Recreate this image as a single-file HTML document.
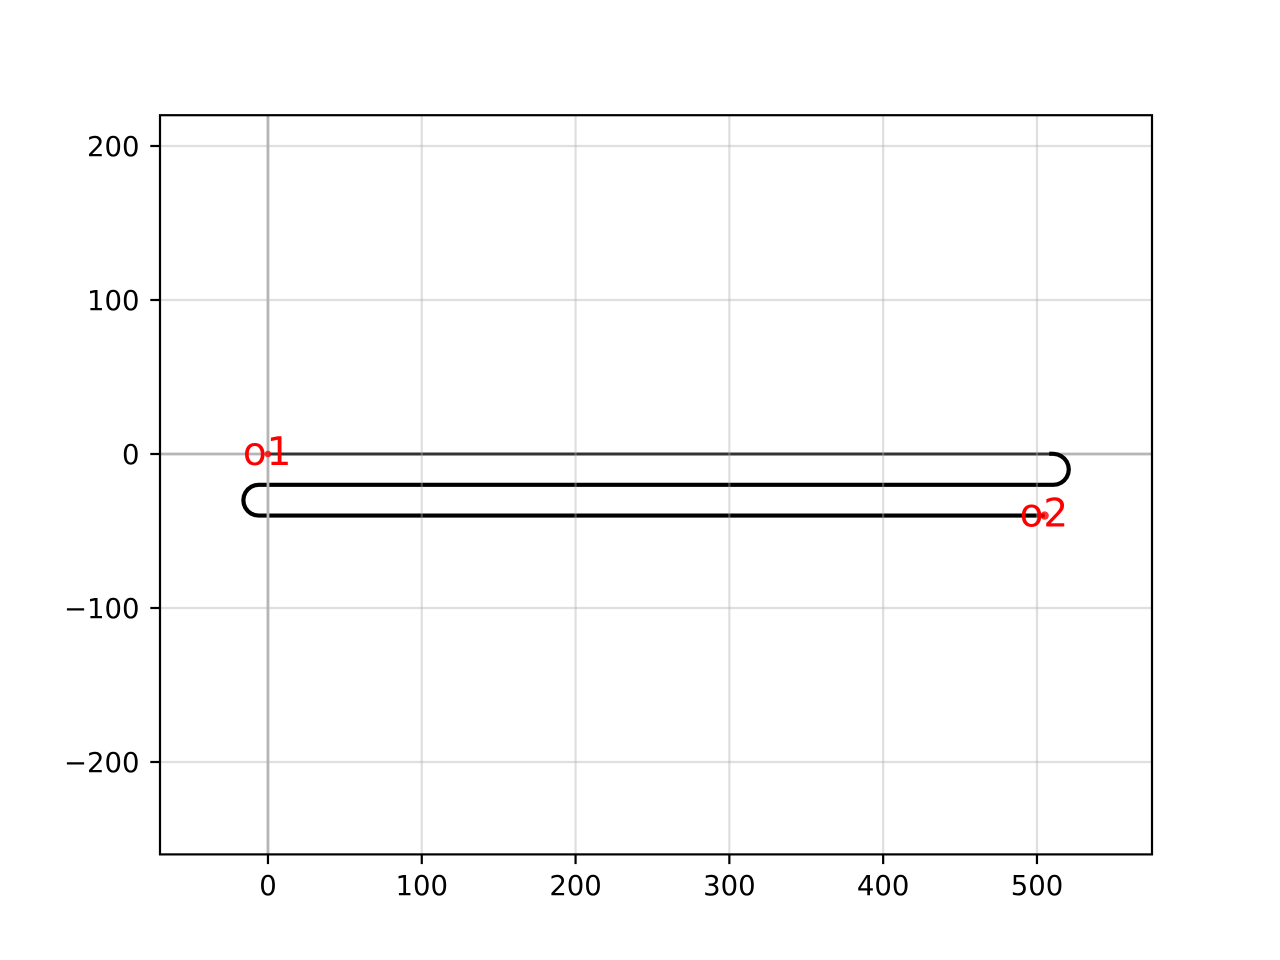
<!DOCTYPE html>
<html lang="en">
<head>
<meta charset="utf-8">
<title>Path chart</title>
<style>
html,body{margin:0;padding:0;background:#fff;width:1280px;height:960px;overflow:hidden}
svg{display:block}
text{font-family:"DejaVu Sans","Liberation Sans",sans-serif}
</style>
</head>
<body>
<svg id="chart" xmlns="http://www.w3.org/2000/svg" width="1280" height="960" viewBox="0 0 1280 960"></svg>
<script>
const xTicks = [0, 100, 200, 300, 400, 500];
const yTicks = [-200, -100, 0, 100, 200];
const xLimits = [-70.2, 574.8];
const yLimits = [-260, 220];
const topRunX = [0, 510];
const topRunY = [0, 0];
const pathX = [508, 510.7, 513.3, 515.7, 517.77, 519.36, 520.36, 520.7, 520.36, 519.36, 517.77, 515.7, 513.3, 510.7,
  0, -6, -8.6, -11, -13.07, -14.66, -15.66, -16, -15.66, -14.66, -13.07, -11, -8.6, -6, 0, 505];
const pathY = [0.15, 0.1, -0.25, -1.34, -2.93, -5, -7.41, -10, -12.59, -15, -17.07, -18.66, -19.66, -20,
  -20, -20, -20.34, -21.34, -22.93, -25, -27.41, -30, -32.59, -35, -37.07, -38.66, -39.66, -40, -40, -40];
const pointLabels = ["o1", "o2"];
const pointX = [0, 505];
const pointY = [0, -40];

const NS = "http://www.w3.org/2000/svg";
const svg = document.getElementById("chart");
const plot = { left: 160, right: 1152, top: 115.2, bottom: 854.4 };
const sx = v => plot.left + (v - xLimits[0]) / (xLimits[1] - xLimits[0]) * (plot.right - plot.left);
const sy = v => plot.bottom - (v - yLimits[0]) / (yLimits[1] - yLimits[0]) * (plot.bottom - plot.top);
const fmt = v => String(v).replace("-", "\u2212");

function make(tag, attrs, parent) {
  const el = document.createElementNS(NS, tag);
  for (const k in attrs) el.setAttribute(k, attrs[k]);
  (parent || svg).appendChild(el);
  return el;
}

yTicks.forEach(t => {
  const isZero = t === 0;
  const g = make("line", {
    x1: plot.left, x2: plot.right, y1: sy(t), y2: sy(t),
    stroke: isZero ? "#b5b5b5" : "#b0b0b0",
    "stroke-opacity": isZero ? 1 : 0.4,
    "stroke-width": isZero ? 2.8 : 2.22
  });
  
  
  const tick = make("line", { x1: plot.left - 9.7, x2: plot.left, y1: sy(t), y2: sy(t), stroke: "#000", "stroke-width": 2.2 });
  
  
  const label = make("text", { x: 139.5, y: sy(t) + 10, "text-anchor": "end", "font-size": 27.5, fill: "#000" });
  label.textContent = fmt(t);
  
  
});

const topRun = make("polyline", {
  points: topRunX.map((x, i) => sx(x).toFixed(2) + "," + sy(topRunY[i]).toFixed(2)).join(" "),
  fill: "none", stroke: "#333", "stroke-width": 3
});



const curve = make("polyline", {
  points: pathX.map((x, i) => sx(x).toFixed(2) + "," + sy(pathY[i]).toFixed(2)).join(" "),
  fill: "none", stroke: "#000", "stroke-width": 4.17, "stroke-linejoin": "round", "stroke-linecap": "butt"
});



xTicks.forEach(t => {
  const isZero = t === 0;
  const g = make("line", {
    x1: sx(t), x2: sx(t), y1: plot.top, y2: plot.bottom,
    stroke: isZero ? "#b5b5b5" : "#b0b0b0",
    "stroke-opacity": isZero ? 1 : 0.4,
    "stroke-width": isZero ? 2.8 : 2.22
  });
  
  
  const tick = make("line", { x1: sx(t), x2: sx(t), y1: plot.bottom, y2: plot.bottom + 9.7, stroke: "#000", "stroke-width": 2.2 });
  
  
  const label = make("text", { x: sx(t), y: 895, "text-anchor": "middle", "font-size": 27.5, fill: "#000" });
  label.textContent = fmt(t);
  
  
});

pointLabels.forEach((name, i) => {
  const dot = make("circle", { cx: sx(pointX[i]), cy: sy(pointY[i]), r: i === 1 ? 4.2 : 3.3, fill: "#f00", "fill-opacity": 0.8 });
  
  
  const label = make("text", { x: sx(pointX[i]) - 0.8, y: sy(pointY[i]) + 11, "text-anchor": "middle", "font-size": 38.89, fill: "#f00" });
  label.textContent = name;
  
  
});

const frame = make("rect", {
  x: plot.left, y: plot.top, width: plot.right - plot.left, height: plot.bottom - plot.top,
  fill: "none", stroke: "#000", "stroke-width": 2.2
});


</script>
</body>
</html>
